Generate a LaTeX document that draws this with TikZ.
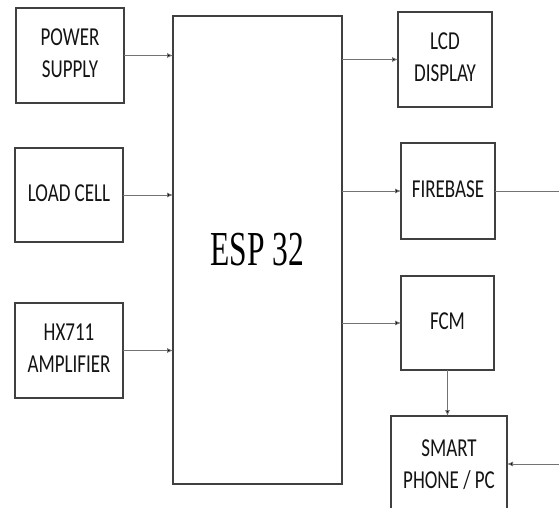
\documentclass[tikz,border=0pt]{standalone}
\usepackage{fontspec}
\setmainfont{Liberation Serif}
\newfontfamily\boxfont{Carlito}
\usetikzlibrary{arrows.meta}
\newcommand{\blbl}[1]{\scalebox{1}[1.36]{\boxfont\fontsize{19}{23.5}\selectfont\begin{tabular}{@{}c@{}}#1\end{tabular}}}
\tikzset{
  blk/.style={draw=black!75, line width=1.1pt, fill=white, inner sep=0pt, outer sep=0pt, text=black!92, align=center},
  arr/.style={draw=black!55, line width=0.8pt, -{Latex[length=6pt,width=5pt,fill=black]}},
  ln/.style={draw=black!55, line width=0.8pt}
}
\begin{document}
\begin{tikzpicture}[x=1pt,y=-1pt]
\useasboundingbox (0,0) rectangle (559,508);
\clip (0,0) rectangle (559,508);
\node[blk, minimum width=108pt, minimum height=95pt] (ps) at (70,55.5) {\blbl{POWER\\SUPPLY}};
\node[blk, minimum width=108pt, minimum height=94pt] (lc) at (69,195) {\blbl{LOAD CELL}};
\node[blk, minimum width=108pt, minimum height=95pt] (hx) at (69,350.5) {\blbl{HX711\\AMPLIFIER}};
\node[blk, text=black, minimum width=169pt, minimum height=468pt] (esp) at (257.5,250) {\scalebox{1}[1.55]{\fontsize{31.5}{36}\selectfont ESP 32}};
\node[blk, minimum width=94pt, minimum height=95pt] (lcd) at (445,59.5) {\blbl{LCD\\DISPLAY}};
\node[blk, minimum width=94pt, minimum height=96pt] (fb) at (448,191) {\blbl{FIREBASE}};
\node[blk, minimum width=93pt, minimum height=94pt] (fcm) at (447.5,323) {\blbl{FCM}};
\node[blk, minimum width=116pt, minimum height=100pt] (sp) at (449,466) {\blbl{SMART\\PHONE / PC}};
\coordinate (fbout) at (562,191);
\coordinate (spin) at (562,464);
\draw[arr] (ps.east) -- (ps.east -| esp.west);
\draw[arr] (lc.east) -- (lc.east -| esp.west);
\draw[arr] (hx.east) -- (hx.east -| esp.west);
\draw[arr] (esp.east |- lcd.west) -- (lcd.west);
\draw[arr] (esp.east |- fb.west) -- (fb.west);
\draw[arr] (esp.east |- fcm.west) -- (fcm.west);
\draw[ln] (fb.east) -- (fbout);
\draw[arr] (fcm.south) -- (fcm.south |- sp.north);
\draw[arr] (spin) -- (spin -| sp.east);
\end{tikzpicture}
\end{document}
